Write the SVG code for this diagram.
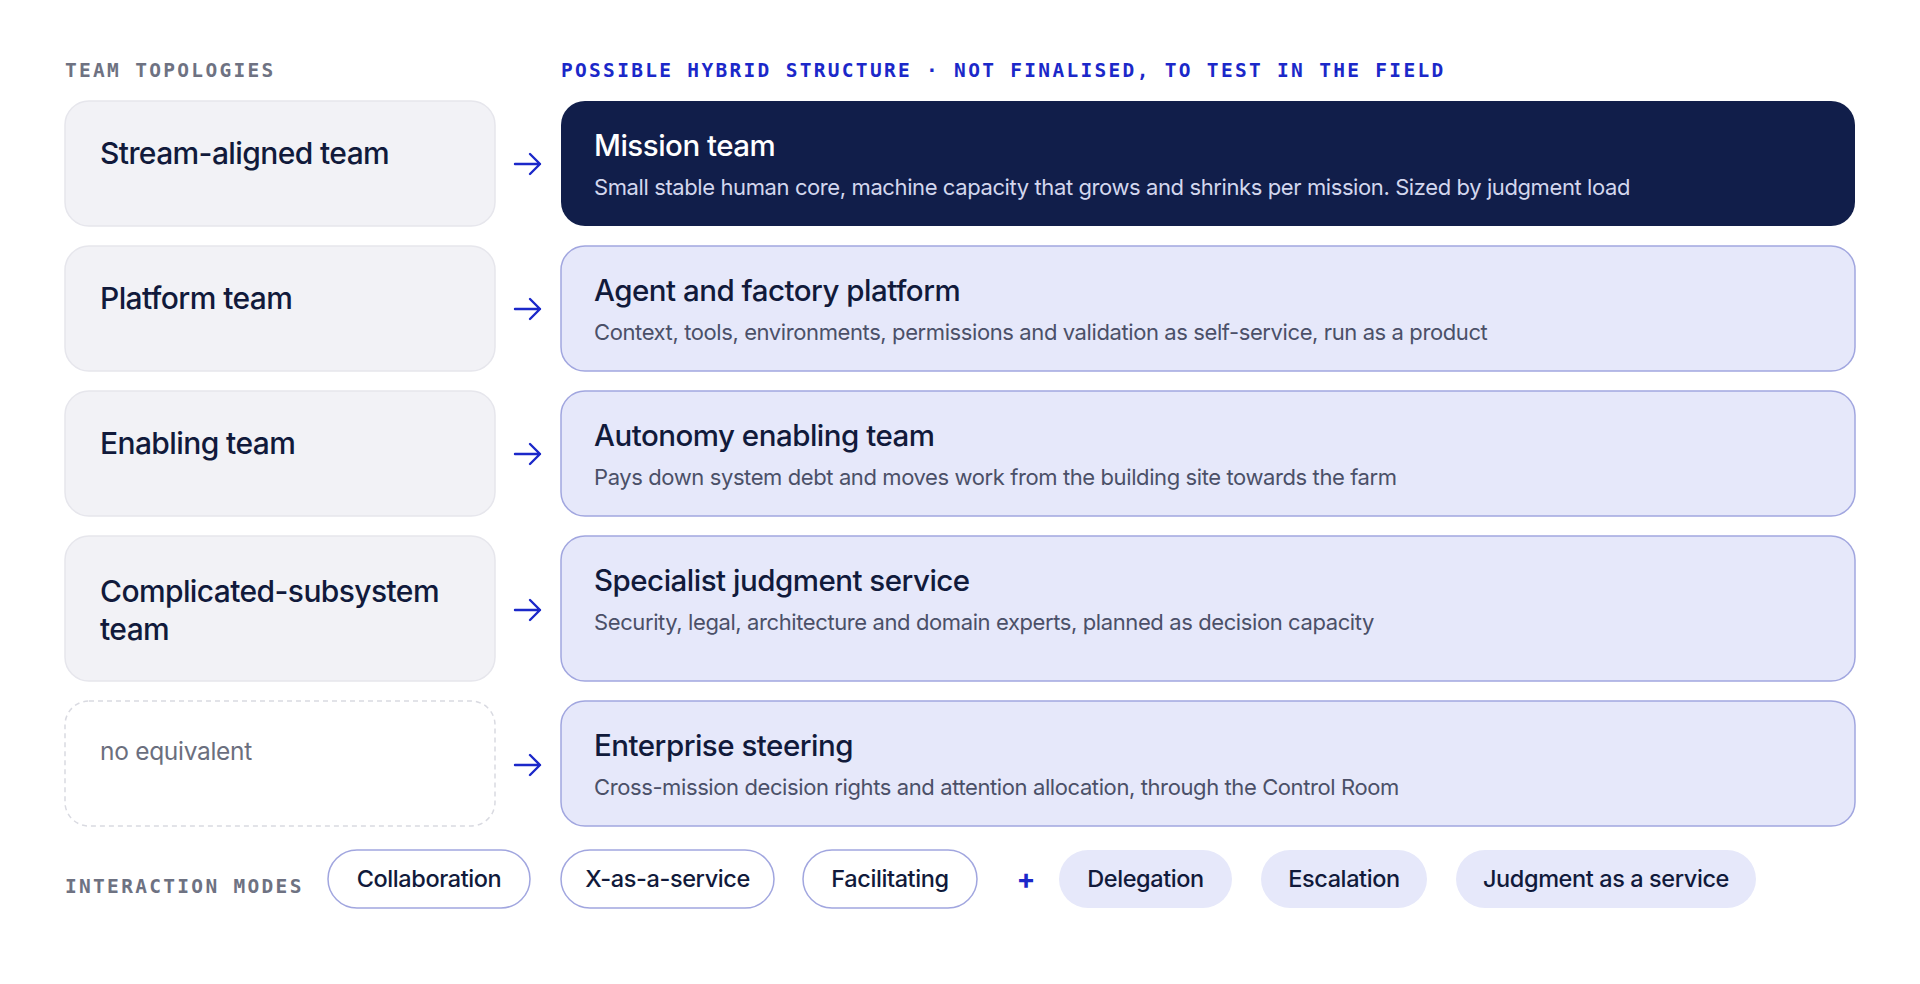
<svg xmlns="http://www.w3.org/2000/svg" width="1920" height="984" viewBox="0 0 1920 984">
<defs>
<style>
.mono{font-family:"DejaVu Sans Mono","Liberation Mono",monospace;font-size:19.5px;letter-spacing:2.3px;font-weight:bold}
.hdr-gray{fill:#6e7282}
.hdr-blue{fill:#1b28c9}
.lbox{fill:#f2f2f6;stroke:#e6e6ec;stroke-width:1.5}
.lbox-dash{fill:#ffffff;stroke:#d9dae1;stroke-width:1.5;stroke-dasharray:5 4}
.rbox{fill:#e6e8fa;stroke:#a1a6df;stroke-width:1.5}
.rbox-dark{fill:#111e4a}
.ltext{font-family:Inter,"Liberation Sans",sans-serif;font-size:30px;font-weight:500;fill:#111a3b;letter-spacing:-0.6px}
.lmuted{font-family:Inter,"Liberation Sans",sans-serif;font-size:24.5px;fill:#6b6f7e;letter-spacing:-0.3px}
.title{font-family:Inter,"Liberation Sans",sans-serif;font-size:29.5px;font-weight:500;fill:#111a3b;letter-spacing:-0.5px}
.title-w{fill:#ffffff}
.sub{font-family:Inter,"Liberation Sans",sans-serif;font-size:22px;fill:#4b5068;letter-spacing:-0.4px}
.sub-w{fill:#d3d7ee}
.arrow{fill:none;stroke:#1b28c9;stroke-width:2.4;stroke-linecap:round;stroke-linejoin:round}
.pill-o{fill:#ffffff;stroke:#a1a6df;stroke-width:1.5}
.pill-f{fill:#e6e8fa}
.ptext{font-family:Inter,"Liberation Sans",sans-serif;font-size:23.5px;font-weight:500;fill:#111a3b;letter-spacing:-0.4px;text-anchor:middle}
.plus{font-family:Inter,"Liberation Sans",sans-serif;font-size:28px;font-weight:700;fill:#1b28c9;text-anchor:middle}
</style>
</defs>
<rect width="1920" height="984" fill="#ffffff"/>

<text class="mono hdr-gray" x="65" y="77">TEAM TOPOLOGIES</text>
<text class="mono hdr-blue" x="561" y="77">POSSIBLE HYBRID STRUCTURE · NOT FINALISED, TO TEST IN THE FIELD</text>

<g id="tt-stream">
<rect class="lbox" x="65" y="101" width="430" height="125" rx="24"/>
<text class="ltext" x="100" y="164">Stream-aligned team</text>
</g>
<g id="tt-platform">
<rect class="lbox" x="65" y="246" width="430" height="125" rx="24"/>
<text class="ltext" x="100" y="309">Platform team</text>
</g>
<g id="tt-enabling">
<rect class="lbox" x="65" y="391" width="430" height="125" rx="24"/>
<text class="ltext" x="100" y="454">Enabling team</text>
</g>
<g id="tt-complicated">
<rect class="lbox" x="65" y="536" width="430" height="145" rx="24"/>
<text class="ltext" x="100" y="602">Complicated-subsystem</text>
<text class="ltext" x="100" y="640">team</text>
</g>
<g id="tt-none">
<rect class="lbox-dash" x="65" y="701" width="430" height="125" rx="24"/>
<text class="lmuted" x="100" y="760">no equivalent</text>
</g>

<g id="hy-mission">
<rect class="rbox-dark" x="561" y="101" width="1294" height="125" rx="24"/>
<text class="title title-w" x="594" y="156">Mission team</text>
<text class="sub sub-w" x="594" y="195">Small stable human core, machine capacity that grows and shrinks per mission. Sized by judgment load</text>
</g>
<g id="hy-platform">
<rect class="rbox" x="561" y="246" width="1294" height="125" rx="24"/>
<text class="title" x="594" y="301">Agent and factory platform</text>
<text class="sub" x="594" y="340">Context, tools, environments, permissions and validation as self-service, run as a product</text>
</g>
<g id="hy-enabling">
<rect class="rbox" x="561" y="391" width="1294" height="125" rx="24"/>
<text class="title" x="594" y="446">Autonomy enabling team</text>
<text class="sub" x="594" y="485">Pays down system debt and moves work from the building site towards the farm</text>
</g>
<g id="hy-specialist">
<rect class="rbox" x="561" y="536" width="1294" height="145" rx="24"/>
<text class="title" x="594" y="591">Specialist judgment service</text>
<text class="sub" x="594" y="630">Security, legal, architecture and domain experts, planned as decision capacity</text>
</g>
<g id="hy-steering">
<rect class="rbox" x="561" y="701" width="1294" height="125" rx="24"/>
<text class="title" x="594" y="756">Enterprise steering</text>
<text class="sub" x="594" y="795">Cross-mission decision rights and attention allocation, through the Control Room</text>
</g>

<g id="connectors">
<path class="arrow" d="M515 164H540M530 154L540 164L530 174"/>
<path class="arrow" d="M515 309H540M530 299L540 309L530 319"/>
<path class="arrow" d="M515 454H540M530 444L540 454L530 464"/>
<path class="arrow" d="M515 610H540M530 600L540 610L530 620"/>
<path class="arrow" d="M515 765H540M530 755L540 765L530 775"/>
</g>

<text class="mono hdr-gray" x="65" y="893">INTERACTION MODES</text>
<g id="mode-collaboration">
<rect class="pill-o" x="328" y="850" width="202" height="58" rx="29"/>
<text class="ptext" x="429" y="887">Collaboration</text>
</g>
<g id="mode-xaas">
<rect class="pill-o" x="561" y="850" width="213" height="58" rx="29"/>
<text class="ptext" x="667.5" y="887">X-as-a-service</text>
</g>
<g id="mode-facilitating">
<rect class="pill-o" x="803" y="850" width="174" height="58" rx="29"/>
<text class="ptext" x="890" y="887">Facilitating</text>
</g>
<text class="plus" x="1026" y="889">+</text>
<g id="mode-delegation">
<rect class="pill-f" x="1059" y="850" width="173" height="58" rx="29"/>
<text class="ptext" x="1145.5" y="887">Delegation</text>
</g>
<g id="mode-escalation">
<rect class="pill-f" x="1261" y="850" width="166" height="58" rx="29"/>
<text class="ptext" x="1344" y="887">Escalation</text>
</g>
<g id="mode-jaas">
<rect class="pill-f" x="1456" y="850" width="300" height="58" rx="29"/>
<text class="ptext" x="1606" y="887">Judgment as a service</text>
</g>
</svg>
